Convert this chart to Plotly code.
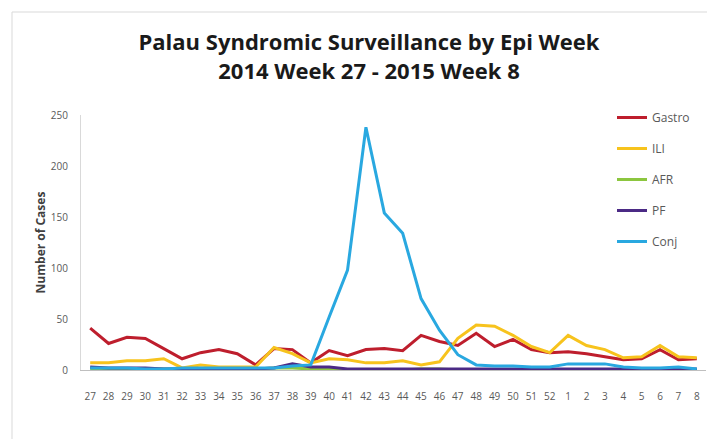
import plotly.graph_objects as go

weeks = [str(w) for w in range(27, 53)] + [str(w) for w in range(1, 9)]

gastro = [41, 26, 32, 31, 21, 11, 17, 20, 16, 5, 21, 20, 7, 19, 14, 20, 21, 19, 34, 28,
          24, 36, 23, 30, 20, 17, 18, 16, 13, 10, 11, 20, 10, 11]
ili = [7, 7, 9, 9, 11, 2, 5, 3, 3, 3, 22, 16, 7, 11, 10, 7, 7, 9, 5, 8,
       31, 44, 43, 34, 23, 17, 34, 24, 20, 12, 13, 24, 13, 12]
afr = [1, 1, 1, 1, 1, 1, 1, 1, 1, 1, 2, 2, 1, 1, 0, 0, 0, 0, 1, 1,
       0, 0, 0, 0, 0, 0, 0, 0, 0, 0, 0, 0, 0, 0]
pf = [3, 2, 2, 2, 1, 1, 1, 1, 1, 1, 2, 6, 3, 3, 1, 1, 1, 1, 1, 1,
      1, 1, 1, 1, 1, 1, 1, 1, 1, 1, 1, 1, 1, 1]
conj = [2, 2, 2, 1, 1, 2, 2, 2, 2, 2, 2, 4, 5, 52, 98, 238, 154, 134, 70, 39,
        15, 5, 4, 4, 3, 3, 6, 6, 6, 3, 2, 2, 3, 1]

series = [
    ("Gastro", gastro, "#BE1E2D"),
    ("ILI", ili, "#F7C31D"),
    ("AFR", afr, "#8CC63F"),
    ("PF", pf, "#4B2A85"),
    ("Conj", conj, "#29A8E0"),
]

FONT = "Open Sans"

fig = go.Figure()
for name, vals, color in series:
    fig.add_trace(go.Scatter(
        x=weeks, y=vals, name=name, mode="lines", legendgroup=name,
        line=dict(color=color, width=3),
    ))

# page body has an 8px margin; the figure is sized to fit the remaining area
W, H = 707, 431
L, R, T, B = 73, 9, 107, 69
PW, PH = W - L - R, H - T - B

fig.update_layout(
    width=W, height=H,
    margin=dict(l=L, r=R, t=T, b=B),
    paper_bgcolor="white", plot_bgcolor="white",
    font=dict(family=FONT, color="#595959"),
    title=dict(
        text="<b>Palau Syndromic Surveillance by Epi Week<br>2014 Week 27 - 2015 Week 8</b>",
        x=361 / W, xanchor="center", xref="container",
        y=1 - 42 / H, yanchor="top", yref="container",
        font=dict(family=FONT, size=22, color="#1a1a1a"),
    ),
    xaxis=dict(
        type="category", range=[-0.5, len(weeks) - 0.5],
        showgrid=False, zeroline=False,
        showline=True, linecolor="#bfbfbf", linewidth=1,
        ticks="", tickfont=dict(size=10, color="#595959"),
        ticklabelstandoff=17,
    ),
    yaxis=dict(
        range=[0, 250], tickvals=[0, 50, 100, 150, 200, 250],
        showgrid=False, zeroline=False,
        showline=True, linecolor="#d9d9d9", linewidth=1,
        ticks="", tickfont=dict(size=10, color="#595959"),
        ticklabelstandoff=10,
        title=dict(text="<b>Number of Cases</b>", font=dict(size=12, color="#404040"), standoff=2),
    ),
    legend=dict(
        x=(604 - L) / PW, xanchor="left",
        y=(362 - 95) / PH, yanchor="top",
        font=dict(size=12, color="#595959"),
        tracegroupgap=12,
        bgcolor="rgba(0,0,0,0)",
    ),
    shapes=[dict(
        type="rect", xref="paper", yref="paper",
        x0=(4 - L) / PW, x1=(730 - L) / PW,
        y0=(362 - 450) / PH, y1=(362 - 4) / PH,
        line=dict(color="#d9d9d9", width=1), fillcolor="rgba(0,0,0,0)",
        layer="below",
    )],
)

fig.write_html("out.html")
